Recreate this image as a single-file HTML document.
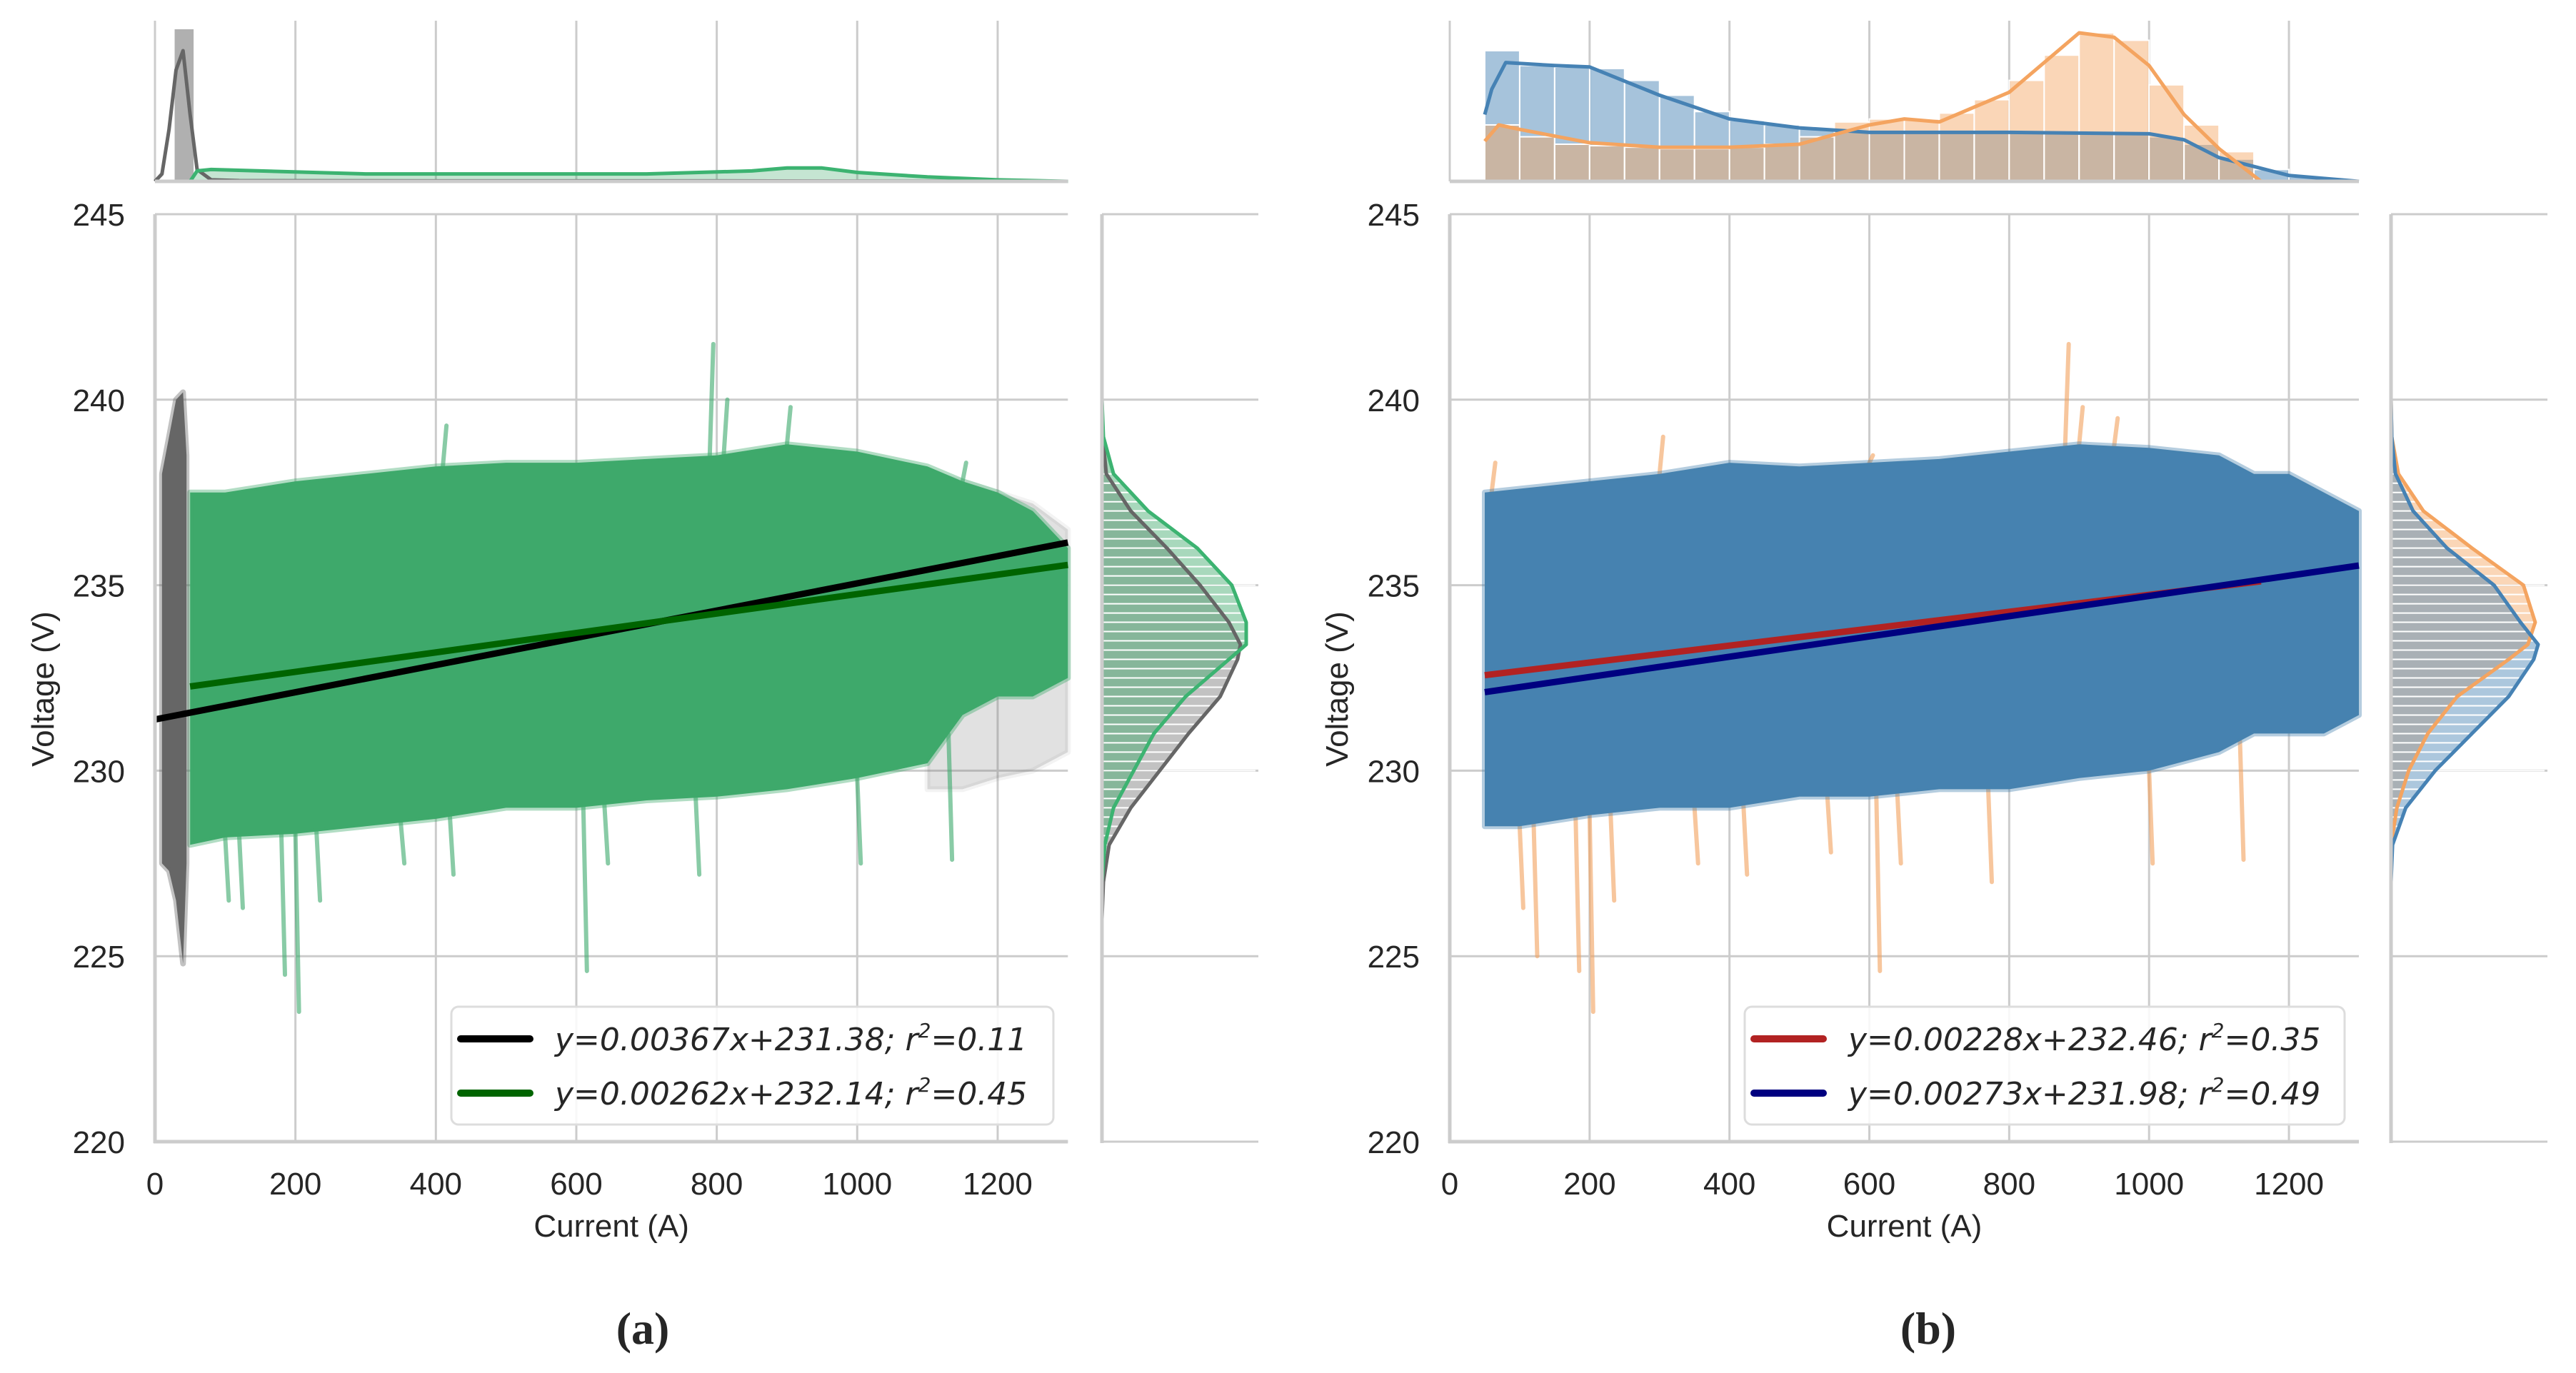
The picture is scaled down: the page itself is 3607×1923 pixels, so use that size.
<!DOCTYPE html>
<html><head><meta charset="utf-8"><style>
html,body{margin:0;padding:0;background:#fff;}
svg{display:block;}
text{font-family:"Liberation Sans","DejaVu Sans",sans-serif;fill:#262626;}
.leg{font-family:"DejaVu Sans","Liberation Sans",sans-serif;font-style:italic;font-size:44px;fill:#262626;}
</style></head><body>
<svg id="fig" width="3607" height="1923" viewBox="0 0 3607 1923" xmlns="http://www.w3.org/2000/svg"></svg>
<script>
// ---------- data ----------
const xTicks = [0,200,400,600,800,1000,1200];
const yTicks = [220,225,230,235,240,245];
const envCurrent = [50,100,200,300,400,500,600,700,800,900,1000,1100,1150,1200,1250,1300];
const greenTop = [237.5,237.5,237.8,238.0,238.2,238.3,238.3,238.4,238.5,238.8,238.6,238.2,237.8,237.5,237.0,236.0];
const greenBot = [228.0,228.2,228.3,228.5,228.7,229.0,229.0,229.2,229.3,229.5,229.8,230.2,231.5,232.0,232.0,232.5];
const grayFarCurrent = [1100,1150,1200,1250,1300];
const grayFarTop = [238.0,237.8,237.5,237.2,236.5];
const grayFarBot = [229.5,229.5,229.8,230.0,230.5];
const grayStripCurrent = [10,20,30,40,45];
const grayStripTop = [238.0,239.0,240.0,240.2,238.5];
const grayStripBot = [227.5,227.3,226.5,224.8,227.5];
const greenSpikeCur = [100,120,180,200,230,350,420,610,640,770,1000,1130];
const greenSpikeMin = [226.5,226.3,224.5,223.5,226.5,227.5,227.2,224.6,227.5,227.2,227.5,227.6];
const greenUpCur = [410,790,810,900,1150];
const greenUpMax = [239.3,241.5,240.0,239.8,238.3];
const blueTop = [237.5,237.6,237.8,238.0,238.3,238.2,238.3,238.4,238.6,238.8,238.7,238.5,238.0,238.0,237.5,237.0];
const blueBot = [228.5,228.5,228.8,229.0,229.0,229.3,229.3,229.5,229.5,229.8,230.0,230.5,231.0,231.0,231.0,231.5];
const orangeSpikeCur = [100,120,180,200,230,350,420,540,610,640,770,1000,1130];
const orangeSpikeMin = [226.3,225.0,224.6,223.5,226.5,227.5,227.2,227.8,224.6,227.5,227.0,227.5,227.6];
const orangeUpCur = [60,300,600,880,900,950];
const orangeUpMax = [238.3,239.0,238.5,241.5,239.8,239.5];
const fitA = {slope:0.00367, icpt:231.38, from:0, to:1300};
const fitB = {slope:0.00262, icpt:232.14, from:50, to:1300};
const fitC = {slope:0.00228, icpt:232.46, from:50, to:1160};
const fitD = {slope:0.00273, icpt:231.98, from:50, to:1300};
const grayKdeCur = [0,10,20,30,40,50,60,80,120,400,800,1300];
const grayKdeVal = [0,0.05,0.35,0.75,0.88,0.45,0.08,0.01,0.005,0.003,0.003,0];
const greenKdeCur = [50,60,80,150,300,500,700,850,900,950,1000,1100,1200,1300];
const greenKdeVal = [0,0.07,0.08,0.07,0.05,0.05,0.05,0.07,0.09,0.09,0.06,0.03,0.01,0];
const binStart = [50,100,150,200,250,300,350,400,450,500,550,600,650,700,750,800,850,900,950,1000,1050,1100,1150,1200,1250];
const blueHist = [0.88,0.78,0.77,0.76,0.68,0.58,0.47,0.41,0.38,0.36,0.34,0.33,0.33,0.33,0.33,0.33,0.33,0.33,0.32,0.3,0.25,0.15,0.08,0.03,0.01];
const orangeHist = [0.38,0.3,0.25,0.24,0.23,0.22,0.22,0.23,0.25,0.3,0.4,0.42,0.42,0.46,0.55,0.68,0.85,1.0,0.95,0.65,0.38,0.2,0,0,0];
const blueKdeCur = [50,60,80,150,200,300,400,500,600,800,1000,1050,1100,1150,1200,1300];
const blueKdeVal = [0.45,0.62,0.8,0.78,0.77,0.58,0.42,0.36,0.33,0.33,0.32,0.28,0.16,0.1,0.04,0];
const orangeKdeCur = [50,70,100,200,300,400,500,600,650,700,800,850,900,950,1000,1050,1100,1160];
const orangeKdeVal = [0.27,0.38,0.35,0.26,0.23,0.23,0.25,0.38,0.42,0.4,0.6,0.8,1.0,0.97,0.78,0.45,0.22,0];
const sideV = [240,239,238,237,236,235,234,233.4,233,232,231,230,229,228,227,226];
const graySide = [0,0.005,0.03,0.2,0.45,0.68,0.88,0.96,0.94,0.82,0.6,0.4,0.2,0.05,0.01,0];
const greenSide = [0,0.01,0.08,0.32,0.66,0.9,1.0,1.0,0.88,0.58,0.36,0.22,0.08,0.02,0,0];
const orangeSide = [0,0.005,0.05,0.22,0.55,0.9,0.98,0.93,0.8,0.45,0.25,0.12,0.04,0,0,0];
const blueSide = [0,0.005,0.03,0.15,0.38,0.7,0.88,1.0,0.97,0.8,0.55,0.3,0.1,0.01,0,0];

const NS = "http://www.w3.org/2000/svg";
const svg = document.getElementById('fig');
function el(tag, attrs, parent){ const e=document.createElementNS(NS,tag); for(const k in attrs) e.setAttribute(k,attrs[k]); (parent||svg).appendChild(e); return e; }
const Y0=1599, YPV=51.96;
function yv(v){ return Y0-(v-220)*YPV; }
const TOPB=254, TOPH=208;
const panels = [
 {id:'a', x0:217, ppa:0.9833, side0:1543, sideW:202, cap:'(a)', capX:900, ylabX:60},
 {id:'b', x0:2030, ppa:0.9792, side0:3348, sideW:206, cap:'(b)', capX:2700, ylabX:1872}
];
function pts(arr){ return arr.map(p=>p[0].toFixed(1)+','+p[1].toFixed(1)).join(' '); }

panels.forEach((P,pi)=>{
  const xa = a => P.x0 + a*P.ppa;
  const xR = xa(1300);
  const g = el('g',{});
  
  
  xTicks.forEach(t=>{
    const l=el('line',{x1:xa(t),x2:xa(t),y1:yv(245),y2:Y0,stroke:'#cccccc','stroke-width':3},g);
     
    const l2=el('line',{x1:xa(t),x2:xa(t),y1:29,y2:TOPB,stroke:'#cccccc','stroke-width':3},g);
     
    const tx=el('text',{x:xa(t),y:1673,'text-anchor':'middle','font-size':44},g); tx.textContent=t;
     
  });
  yTicks.forEach(t=>{
    const l=el('line',{x1:P.x0,x2:xR,y1:yv(t),y2:yv(t),stroke:'#cccccc','stroke-width':3},g);
     
    const l2=el('line',{x1:P.side0,x2:P.side0+219,y1:yv(t),y2:yv(t),stroke:'#cccccc','stroke-width':3},g);
     
    const tx=el('text',{x:P.x0-42,y:yv(t)+16,'text-anchor':'end','font-size':44},g); tx.textContent=t;
     
  });
  function band(cur, top, bot, color, op, name){
    const p=[]; cur.forEach((c,i)=>p.push([xa(c),yv(top[i])]));
    for(let i=cur.length-1;i>=0;i--) p.push([xa(cur[i]),yv(bot[i])]);
    const e=el('polygon',{points:pts(p),fill:color,'fill-opacity':op,stroke:color,'stroke-opacity':op*0.4,'stroke-width':8,'stroke-linejoin':'round'},g);
     
  }
  function spikes(cur, lim, baseTop, color, name){
    cur.forEach((c,i)=>{
      let b=baseTop[0]; for(let k=0;k<envCurrent.length-1;k++){ if(c>=envCurrent[k]&&c<=envCurrent[k+1]){ const f=(c-envCurrent[k])/(envCurrent[k+1]-envCurrent[k]); b=baseTop[k]+(baseTop[k+1]-baseTop[k])*f; } }
      const e=el('line',{x1:xa(c),x2:xa(c)+5,y1:yv(b),y2:yv(lim[i]),stroke:color,'stroke-width':6,'stroke-linecap':'round','stroke-opacity':0.6},g);
       
    });
  }
  let fits, legendText, legendR;
  if(pi===0){
    band(grayFarCurrent,grayFarTop,grayFarBot,'#6b6b6b',0.2,'gray-scatter-tail');
    spikes(greenSpikeCur,greenSpikeMin,greenBot,'#3ba86a','green-scatter-spike');
    spikes(greenUpCur,greenUpMax,greenTop,'#3ba86a','green-scatter-spike');
    band(envCurrent,greenTop,greenBot,'#3ea96b',1,'green-scatter-cloud');
    band(grayStripCurrent,grayStripTop,grayStripBot,'#666666',1,'gray-scatter-strip');
    fits=[[fitA,'#000000'],[fitB,'#006400']];
    legendText=['y=0.00367x+231.38; r','y=0.00262x+232.14; r']; legendR=['=0.11','=0.45'];
  } else {
    spikes(orangeSpikeCur,orangeSpikeMin,blueBot,'#f2a05c','orange-scatter-spike');
    spikes(orangeUpCur,orangeUpMax,blueTop,'#f2a05c','orange-scatter-spike');
    band(envCurrent,blueTop,blueBot,'#4682b0',1,'blue-scatter-cloud');
    fits=[[fitC,'#b22222'],[fitD,'#000080']];
    legendText=['y=0.00228x+232.46; r','y=0.00273x+231.98; r']; legendR=['=0.35','=0.49'];
  }
  fits.forEach(([f,c])=>{
    const e=el('line',{x1:xa(f.from),y1:yv(f.icpt+f.slope*f.from),x2:xa(f.to),y2:yv(f.icpt+f.slope*f.to),stroke:c,'stroke-width':9},g);
     
  });
  let s=el('line',{x1:P.x0,x2:P.x0,y1:yv(245),y2:Y0+2,stroke:'#cccccc','stroke-width':5},g);
   
  s=el('line',{x1:P.x0-2,x2:xR,y1:Y0,y2:Y0,stroke:'#cccccc','stroke-width':5},g);
   
  const bw = 50*P.ppa;
  if(pi===0){
    const gb=el('rect',{x:xa(28),y:41,width:xa(55)-xa(28),height:TOPB-41,fill:'#b0b0b0'},g);
     
    const gf=el('polygon',{points:pts([[xa(50),TOPB]].concat(greenKdeCur.map((c,i)=>[xa(c),TOPB-greenKdeVal[i]*TOPH])).concat([[xa(1300),TOPB]])),fill:'#3ea96b','fill-opacity':0.3},g);
     
    const k1=el('polyline',{points:pts(grayKdeCur.map((c,i)=>[xa(c),TOPB-grayKdeVal[i]*TOPH])),fill:'none',stroke:'#666','stroke-width':5,'stroke-linejoin':'round'},g);
     
    const k2=el('polyline',{points:pts(greenKdeCur.map((c,i)=>[xa(c),TOPB-greenKdeVal[i]*TOPH])),fill:'none',stroke:'#3cb371','stroke-width':5,'stroke-linejoin':'round'},g);
     
  } else {
    binStart.forEach((b,i)=>{
      const r1=el('rect',{x:xa(b),y:TOPB-blueHist[i]*TOPH,width:bw,height:blueHist[i]*TOPH,fill:'#4682b4','fill-opacity':0.48,stroke:'#fff','stroke-width':2},g);
       
      const r2=el('rect',{x:xa(b),y:TOPB-orangeHist[i]*TOPH,width:bw,height:orangeHist[i]*TOPH,fill:'#f4a460','fill-opacity':0.45,stroke:'#fff','stroke-width':2},g);
       
    });
    const k1=el('polyline',{points:pts(blueKdeCur.map((c,i)=>[xa(c),TOPB-blueKdeVal[i]*TOPH])),fill:'none',stroke:'#4682b4','stroke-width':5,'stroke-linejoin':'round'},g);
     
    const k2=el('polyline',{points:pts(orangeKdeCur.map((c,i)=>[xa(c),TOPB-orangeKdeVal[i]*TOPH])),fill:'none',stroke:'#f4a460','stroke-width':5,'stroke-linejoin':'round'},g);
     
  }
  s=el('line',{x1:P.x0,x2:xR,y1:TOPB,y2:TOPB,stroke:'#cccccc','stroke-width':5},g);
   
  const sx = v => P.side0 + v*P.sideW;
  const sideSets = pi===0 ? [[graySide,'#777777','#666666','gray'],[greenSide,'#3ea96b','#3cb371','green']] : [[orangeSide,'#f4a460','#f4a460','orange'],[blueSide,'#4682b4','#4682b4','blue']];
  sideSets.forEach(([arr,fillc,lc,nm])=>{
    const poly=[[P.side0,yv(sideV[0])]].concat(sideV.map((v,i)=>[sx(arr[i]),yv(v)])).concat([[P.side0,yv(sideV[sideV.length-1])]]);
    const f=el('polygon',{points:pts(poly),fill:fillc,'fill-opacity':0.45},g);
     
  });
  for(let v=238;v>=227;v-=0.25){
    const l=el('line',{x1:P.side0,x2:P.side0+215,y1:yv(v),y2:yv(v),stroke:'#fff','stroke-width':2},g);
     
  }
  sideSets.forEach(([arr,fillc,lc,nm])=>{
    const k=el('polyline',{points:pts(sideV.map((v,i)=>[sx(arr[i]),yv(v)])),fill:'none',stroke:lc,'stroke-width':5,'stroke-linejoin':'round'},g);
     
  });
  s=el('line',{x1:P.side0,x2:P.side0,y1:yv(245),y2:Y0+2,stroke:'#cccccc','stroke-width':5},g);
   
  const lx = pi===0?632:2443, lw = pi===0?843:840;
  const lg=el('g',{},g);  
  el('rect',{x:lx,y:1410,width:lw,height:165,rx:10,fill:'#fff','fill-opacity':0.85,stroke:'#dddddd','stroke-width':3},lg);
  [1455,1531].forEach((ry,i)=>{
    const ll=el('line',{x1:lx+13,x2:lx+110,y1:ry,y2:ry,stroke:fits[i][1],'stroke-width':10,'stroke-linecap':'round'},lg);
     
    const t=el('text',{x:lx+145,y:ry+16,class:'leg'},lg);
     
    const a=document.createElementNS(NS,'tspan'); a.textContent=legendText[i]; t.appendChild(a);
    const b=document.createElementNS(NS,'tspan'); b.setAttribute('dy','-18'); b.setAttribute('font-size','28'); b.textContent='2'; t.appendChild(b);
    const c=document.createElementNS(NS,'tspan'); c.setAttribute('dy','18'); c.textContent=legendR[i]; t.appendChild(c);
  });
  let t=el('text',{x:(P.x0+xR)/2,y:1732,'text-anchor':'middle','font-size':44},g); t.textContent='Current (A)';
   
  t=el('text',{x:P.ylabX,y:950,'text-anchor':'middle','font-size':44,transform:'rotate(-90 '+(P.ylabX+15)+' 950)'},g); t.textContent='Voltage (V)';
   
  t=el('text',{x:P.capX,y:1882,'text-anchor':'middle','font-size':64,style:'font-family:"Liberation Serif",serif;font-weight:bold'},g); t.textContent=P.cap;
   
});
</script>
</body></html>
